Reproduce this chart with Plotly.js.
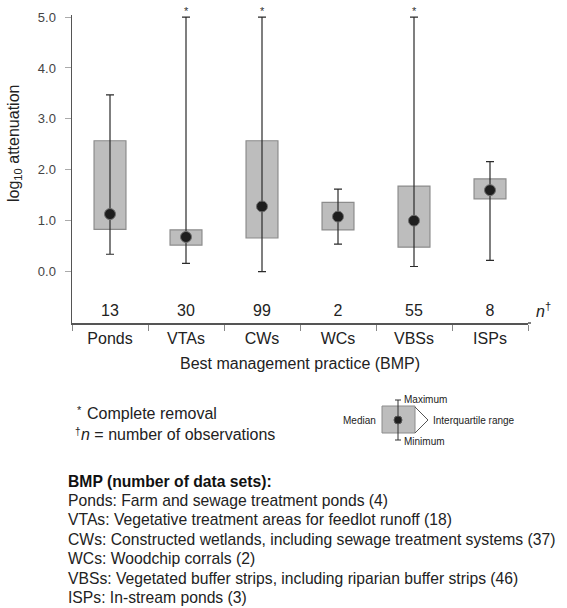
<!DOCTYPE html>
<html>
<head>
<meta charset="utf-8">
<script src="https://cdn.plot.ly/plotly-3.0.1.min.js"></script>
<style>html,body{margin:0;padding:0;background:#fff;}#chart{width:567px;height:608px;}</style>
</head>
<body>
<div id="chart"></div>
<script>
// ---- data ----
var categories = ["Ponds", "VTAs", "CWs", "WCs", "VBSs", "ISPs"];
var q1Values     = [0.83, 0.52, 0.66, 0.82, 0.48, 1.43];
var q3Values     = [2.57, 0.82, 2.57, 1.36, 1.68, 1.82];
var medianValues = [1.13, 0.68, 1.28, 1.08, 1.00, 1.60];
var minValues    = [0.34, 0.16, 0.00, 0.54, 0.10, 0.22];
var maxValues    = [3.47, 5.00, 5.00, 1.62, 5.00, 2.16];
var nObservations = [13, 30, 99, 2, 55, 8];
var completeRemoval = [false, true, true, false, true, false];
var yTickValues = [0, 1, 2, 3, 4, 5];
var bmpLines = [
  "Ponds: Farm and sewage treatment ponds (4)",
  "VTAs: Vegetative treatment areas for feedlot runoff (18)",
  "CWs: Constructed wetlands, including sewage treatment systems (37)",
  "WCs: Woodchip corrals (2)",
  "VBSs: Vegetated buffer strips, including riparian buffer strips (46)",
  "ISPs: In-stream ponds (3)"
];

// ---- geometry helpers (pixel -> paper) ----
var L = 72, R = 528, T = 15, B = 323;
function px(x){ return (x - L) / (R - L); }
function py(y){ return (B - y) / (B - T); }

var FONT = "Liberation Sans, Arial, Helvetica, sans-serif";

var traces = [
  {
    type: "bar",
    x: categories,
    base: q1Values,
    y: q3Values.map(function(v, i){ return v - q1Values[i]; }),
    width: 0.42,
    marker: { color: "#bdbdbd", line: { color: "#8c8c8c", width: 1.2 } },
    hoverinfo: "skip",
    showlegend: false
  },
  {
    type: "scatter",
    mode: "markers",
    x: categories,
    y: medianValues,
    marker: { color: "#1e1e1e", size: 11, line: { color: "#6f6f6f", width: 1 } },
    error_y: {
      type: "data", symmetric: false,
      array: maxValues.map(function(v, i){ return v - medianValues[i]; }),
      arrayminus: medianValues.map(function(v, i){ return v - minValues[i]; }),
      color: "#2b2b2b", thickness: 1.2, width: 4
    },
    showlegend: false
  },
  {
    type: "scatter",
    mode: "text",
    x: categories,
    y: categories.map(function(){ return -0.79; }),
    text: nObservations.map(String),
    textfont: { family: FONT, size: 16, color: "#222" },
    cliponaxis: false,
    showlegend: false
  }
];

var annotations = [];
categories.forEach(function(c, i){
  if (completeRemoval[i]) {
    annotations.push({ x: c, y: maxValues[i], xref: "x", yref: "y", text: "*",
      showarrow: false, yanchor: "bottom", yshift: -2,
      font: { family: FONT, size: 11, color: "#333" } });
  }
});
// y-axis title centred on the 0-5 data range
annotations.push({ x: px(15), y: py(144), xref: "paper", yref: "paper", xanchor: "center", yanchor: "middle",
  textangle: -90, text: "log<sub>10</sub> attenuation", showarrow: false,
  font: { family: FONT, size: 16, color: "#222" } });
annotations.push({ x: px(534), y: py(310), xref: "paper", yref: "paper", xanchor: "left", yanchor: "middle",
  text: "<i>n</i><sup>†</sup>", showarrow: false, font: { family: FONT, size: 16, color: "#222" } });
// footnotes
annotations.push({ x: px(75), y: py(410), xref: "paper", yref: "paper", xanchor: "left", yanchor: "middle",
  text: "*", showarrow: false, font: { family: FONT, size: 11, color: "#222" } });
annotations.push({ x: px(85), y: py(413), xref: "paper", yref: "paper", xanchor: "left", yanchor: "middle",
  text: "Complete removal", showarrow: false, font: { family: FONT, size: 16, color: "#222" } });
annotations.push({ x: px(73), y: py(431), xref: "paper", yref: "paper", xanchor: "left", yanchor: "middle",
  text: "†", showarrow: false, font: { family: FONT, size: 10, color: "#222" } });
annotations.push({ x: px(79), y: py(434), xref: "paper", yref: "paper", xanchor: "left", yanchor: "middle",
  text: "<i>n</i> = number of observations", showarrow: false, font: { family: FONT, size: 16, color: "#222" } });
// legend glyph labels
var small = { family: FONT, size: 10, color: "#222" };
annotations.push({ x: px(402), y: py(399), xref: "paper", yref: "paper", xanchor: "left", yanchor: "middle", text: "Maximum", showarrow: false, font: small });
annotations.push({ x: px(402), y: py(441), xref: "paper", yref: "paper", xanchor: "left", yanchor: "middle", text: "Minimum", showarrow: false, font: small });
annotations.push({ x: px(378), y: py(420), xref: "paper", yref: "paper", xanchor: "right", yanchor: "middle", text: "Median", showarrow: false, font: small });
annotations.push({ x: px(431), y: py(420), xref: "paper", yref: "paper", xanchor: "left", yanchor: "middle", text: "Interquartile range", showarrow: false, font: small });
// BMP list
annotations.push({ x: px(66), y: py(481), xref: "paper", yref: "paper", xanchor: "left", yanchor: "middle",
  text: "<b>BMP (number of data sets):</b>", showarrow: false, font: { family: FONT, size: 15.7, color: "#111" } });
bmpLines.forEach(function(t, i){
  annotations.push({ x: px(66), y: py(500.5 + i * 19.4), xref: "paper", yref: "paper", xanchor: "left", yanchor: "middle",
    text: t, showarrow: false, font: { family: FONT, size: 15.7, color: "#222" } });
});

var shapes = [
  { type: "rect", xref: "paper", yref: "paper", x0: px(382), x1: px(415), y0: py(406), y1: py(433),
    fillcolor: "#bdbdbd", line: { color: "#8c8c8c", width: 1 } },
  { type: "path", xref: "paper", yref: "paper",
    path: "M" + px(415) + "," + py(407) + " L" + px(428) + "," + py(420) + " L" + px(415) + "," + py(433),
    line: { color: "#555", width: 1 } },
  { type: "line", xref: "paper", yref: "paper", x0: px(398), x1: px(398), y0: py(400), y1: py(440), line: { color: "#333", width: 1 } },
  { type: "line", xref: "paper", yref: "paper", x0: px(395), x1: px(401), y0: py(400), y1: py(400), line: { color: "#333", width: 1 } },
  { type: "line", xref: "paper", yref: "paper", x0: px(395), x1: px(401), y0: py(440), y1: py(440), line: { color: "#333", width: 1 } },
  { type: "circle", xref: "paper", yref: "paper", x0: px(394), x1: px(402), y0: py(416), y1: py(424),
    fillcolor: "#1e1e1e", line: { color: "#555", width: 1 } },
  { type: "line", xref: "paper", yref: "paper", x0: 1, x1: px(531), y0: 0, y1: 0, line: { color: "#555", width: 1.5 } }
];

var layout = {
  width: 567, height: 608,
  margin: { l: L, r: 567 - R, t: T, b: 608 - B, pad: 0 },
  paper_bgcolor: "#fff", plot_bgcolor: "#fff",
  font: { family: FONT, size: 16, color: "#222" },
  showlegend: false,
  xaxis: {
    type: "category", range: [-0.5, 5.5], fixedrange: true,
    showline: true, linecolor: "#555", linewidth: 1.5,
    ticks: "outside", tickson: "boundaries", ticklen: 6, tickcolor: "#888", tickwidth: 1,
    showgrid: false, zeroline: false,
    tickfont: { family: FONT, size: 16, color: "#222" },
    title: { text: "Best management practice (BMP)", font: { family: FONT, size: 16, color: "#222" }, standoff: 12 }
  },
  yaxis: {
    range: [-1.01, 5.04], fixedrange: true,
    tickvals: yTickValues, tickformat: ".1f",
    showline: true, linecolor: "#555", linewidth: 1.5,
    ticks: "outside", ticklen: 6, tickcolor: "#aaa", tickwidth: 1,
    ticklabelstandoff: 6,
    showgrid: false, zeroline: false,
    tickfont: { family: FONT, size: 13, color: "#444" }
  },
  annotations: annotations,
  shapes: shapes
};

Plotly.newPlot("chart", traces, layout, { displayModeBar: false, staticPlot: true });
</script>
</body>
</html>
